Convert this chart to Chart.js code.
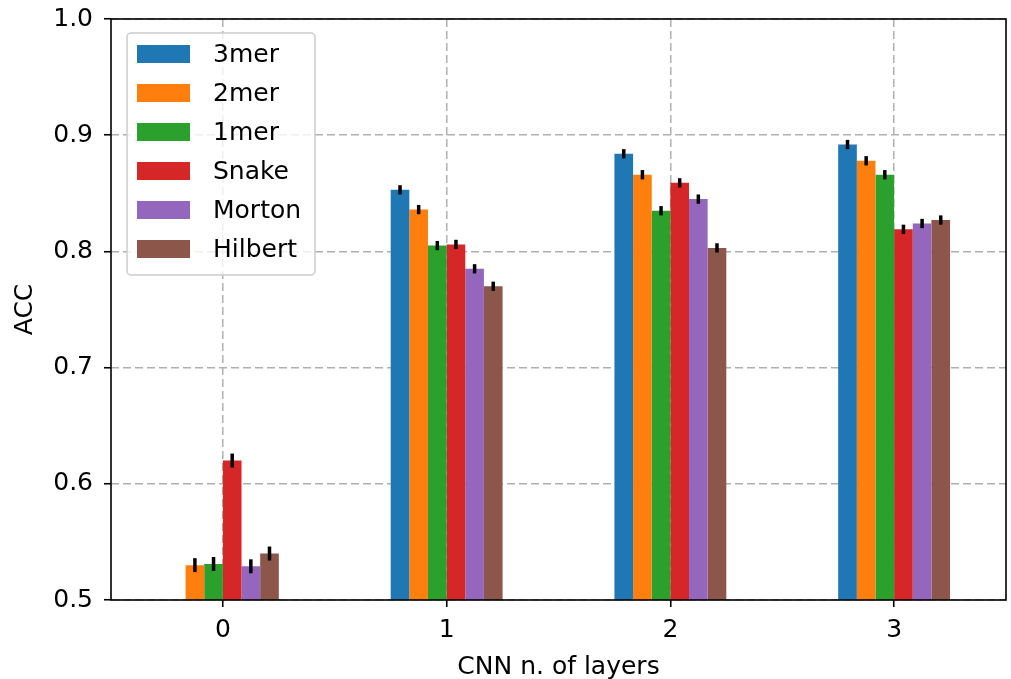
<!DOCTYPE html>
<html>
<head>
<meta charset="utf-8">
<script src="https://cdn.jsdelivr.net/npm/chart.js@4/dist/chart.umd.min.js"></script>
<style>
  html, body { margin: 0; padding: 0; background: #fff; }
  #wrap { width: 1011px; height: 679px; }
</style>
</head>
<body>
<div id="wrap"><canvas id="accChart" width="1011" height="679"></canvas></div>
<script>
// CNN depth on the x axis
const layers = ["0", "1", "2", "3"];
const seriesNames = ["3mer", "2mer", "1mer", "Snake", "Morton", "Hilbert"];
const seriesColors = ["#1f77b4", "#ff7f0e", "#2ca02c", "#d62728", "#9467bd", "#8c564b"];

// mean ACC per series (3mer at 0 layers is below the axis)
const acc3mer = [null, 0.853, 0.884, 0.892];
const acc2mer = [0.530, 0.836, 0.866, 0.878];
const acc1mer = [0.531, 0.805, 0.835, 0.866];
const accSnake = [0.620, 0.806, 0.859, 0.819];
const accMorton = [0.529, 0.785, 0.845, 0.824];
const accHilbert = [0.540, 0.770, 0.803, 0.827];

// error bar half-widths
const err3mer = [0, 0.004, 0.004, 0.004];
const err2mer = [0.006, 0.004, 0.004, 0.004];
const err1mer = [0.006, 0.004, 0.004, 0.004];
const errSnake = [0.006, 0.004, 0.004, 0.004];
const errMorton = [0.006, 0.004, 0.004, 0.004];
const errHilbert = [0.006, 0.004, 0.004, 0.004];

const yTicks = [0.5, 0.6, 0.7, 0.8, 0.9, 1.0];

const accs = [acc3mer, acc2mer, acc1mer, accSnake, accMorton, accHilbert];
const errs = [err3mer, err2mer, err1mer, errSnake, errMorton, errHilbert];

const FONT = "'DejaVu Sans', sans-serif";

// error bars + box frame
const errorBars = {
  id: "errorBars",
  afterDatasetsDraw(chart) {
    const ctx = chart.ctx;
    const y = chart.scales.y;
    ctx.save();
    ctx.strokeStyle = "#000";
    ctx.lineWidth = 3.5;
    chart.data.datasets.forEach((ds, i) => {
      const meta = chart.getDatasetMeta(i);
      meta.data.forEach((bar, j) => {
        const v = ds.data[j];
        if (v == null) return;
        const e = ds.errs[j];
        ctx.beginPath();
        ctx.moveTo(bar.x, y.getPixelForValue(v - e));
        ctx.lineTo(bar.x, y.getPixelForValue(v + e));
        ctx.stroke();
      });
    });
    const a = chart.chartArea;
    ctx.lineWidth = 1.6;
    ctx.strokeRect(a.left, a.top, a.right - a.left, a.bottom - a.top);
    ctx.restore();
  }
};

// legend box in upper left of plot
const boxLegend = {
  id: "boxLegend",
  afterDraw(chart) {
    const ctx = chart.ctx;
    const a = chart.chartArea;
    const x0 = a.left + 16, y0 = a.top + 14;
    const w = 188, rowH = 39;
    const h = rowH * chart.data.datasets.length + 8;
    ctx.save();
    ctx.fillStyle = "rgba(255,255,255,0.8)";
    ctx.strokeStyle = "#cccccc";
    ctx.lineWidth = 1.5;
    ctx.beginPath();
    ctx.roundRect(x0, y0, w, h, 4);
    ctx.fill();
    ctx.stroke();
    ctx.font = "25px " + FONT;
    ctx.textBaseline = "middle";
    ctx.fillStyle = "#000";
    chart.data.datasets.forEach((ds, i) => {
      const cy = y0 + 21 + i * rowH;
      ctx.fillStyle = ds.backgroundColor;
      ctx.fillRect(x0 + 10, cy - 9, 53, 18);
      ctx.fillStyle = "#000";
      ctx.fillText(ds.label, x0 + 86, cy + 1);
    });
    ctx.restore();
  }
};

new Chart(document.getElementById("accChart"), {
  type: "bar",
  data: {
    labels: layers,
    datasets: seriesNames.map((name, i) => ({
      label: name,
      data: accs[i],
      errs: errs[i],
      backgroundColor: seriesColors[i],
      borderWidth: 0
    }))
  },
  options: {
    responsive: false,
    animation: false,
    datasets: { bar: { categoryPercentage: 0.5, barPercentage: 1.0 } },
    layout: { padding: { top: 19, right: 5, left: 0, bottom: 0 } },
    plugins: { legend: { display: false }, tooltip: { enabled: false } },
    scales: {
      x: {
        grid: {
          offset: false,
          color: "#b0b0b0",
          lineWidth: 1.5,
          tickColor: "#000",
          tickLength: 7,
          tickWidth: 1.6,
          tickBorderDash: []
        },
        border: { display: false, dash: [8, 4] },
        ticks: { color: "#000", font: { family: FONT, size: 25 }, padding: 8 },
        title: {
          display: true,
          text: "CNN n. of layers",
          color: "#000",
          font: { family: FONT, size: 25 },
          padding: { top: 4, bottom: -3 }
        },
        afterFit(s) {
          s.height = 79;
          s.paddingLeft = 0;
          s.paddingRight = 0;
        }
      },
      y: {
        min: 0.5,
        max: 1.0,
        afterBuildTicks(s) { s.ticks = yTicks.map(v => ({ value: v })); },
        grid: {
          color: "#b0b0b0",
          lineWidth: 1.5,
          tickColor: "#000",
          tickLength: 7,
          tickWidth: 1.6,
          tickBorderDash: []
        },
        border: { display: false, dash: [8, 4] },
        ticks: {
          color: "#000",
          font: { family: FONT, size: 25 },
          padding: 11,
          callback: v => Number(v).toFixed(1)
        },
        title: {
          display: true,
          text: "ACC",
          color: "#000",
          font: { family: FONT, size: 25 },
          padding: { top: 10, bottom: 0 }
        },
        afterFit(s) {
          s.width = 111;
          s.paddingTop = 0;
          s.paddingBottom = 0;
        }
      }
    }
  },
  plugins: [errorBars, boxLegend]
});
</script>
</body>
</html>
